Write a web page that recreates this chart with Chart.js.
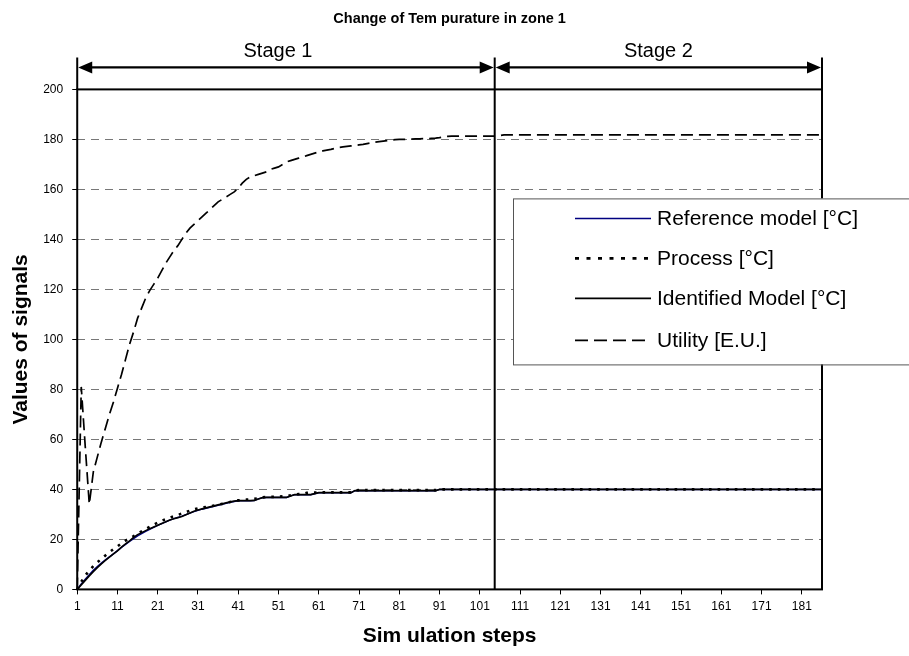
<!DOCTYPE html>
<html>
<head>
<meta charset="utf-8">
<script src="https://cdn.jsdelivr.net/npm/chart.js@4.4.1/dist/chart.umd.min.js"></script>
<style>
html,body{margin:0;padding:0;background:#fff;}
#wrap{width:909px;height:656px;position:relative;}
</style>
</head>
<body>
<div id="wrap"><canvas id="c" width="909" height="656"></canvas></div>
<script>
// ---------- texts ----------
const chartTitle = 'Change of Tem purature in zone 1';
const xTitle = 'Sim ulation steps';
const yTitle = 'Values of signals';
const seriesNames = ['Reference model [°C]', 'Process [°C]', 'Identified Model [°C]', 'Utility [E.U.]'];
const stageNames = ['Stage 1', 'Stage 2'];
const stageBounds = [1, 104.7, 186];   // simulation steps bounding the stages

// ---------- categories ----------
const steps = Array.from({length: 186}, (_, i) => String(i + 1));
const yMin = 0, yMax = 200, yStep = 20;

// ---------- series ----------
const referenceModel = [
  0,2.2,4.1,5.9,7.6,9.1,10.5,11.8,13.0,14.2,
  15.5,16.8,18.0,19.2,20.3,21.4,22.3,23.2,24.0,24.8,
  25.6,26.3,27.0,27.7,28.3,28.8,29.3,29.9,30.5,31.1,
  31.6,32.1,32.5,32.9,33.3,33.7,34.1,34.5,34.9,35.2,
  35.5,35.5,35.5,35.5,35.6,36.2,36.7,36.8,36.8,36.8,
  36.8,36.8,36.8,37.4,37.9,37.9,37.9,37.9,37.9,38.3,
  38.7,38.7,38.7,38.7,38.7,38.7,38.7,38.7,38.7,39.5,
  39.5,39.5,39.5,39.5,39.5,39.5,39.5,39.5,39.5,39.5,
  39.5,39.5,39.5,39.5,39.5,39.5,39.5,39.5,39.5,39.5,
  40,40,40,40,40,40,40,40,40,40,
  40,40,40,40,40,40,40,40,40,40,
  40,40,40,40,40,40,40,40,40,40,
  40,40,40,40,40,40,40,40,40,40,
  40,40,40,40,40,40,40,40,40,40,
  40,40,40,40,40,40,40,40,40,40,
  40,40,40,40,40,40,40,40,40,40,
  40,40,40,40,40,40,40,40,40,40,
  40,40,40,40,40,40,40,40,40,40,
  40,40,40,40,40,40
];
const processValues = [
  0,3.0,5.5,7.6,9.3,10.8,12.2,13.6,14.9,16.1,
  17.2,18.4,19.5,20.4,21.3,22.3,23.2,24.1,25.0,25.9,
  26.7,27.5,28.1,28.7,29.3,29.8,30.3,30.9,31.5,32.0,
  32.4,32.7,33.0,33.2,33.5,33.9,34.2,34.6,35.0,35.3,
  35.6,35.8,35.9,36.0,36.2,36.5,36.8,37.0,37.0,37.0,
  37.1,37.2,37.3,37.6,38.0,38.1,38.2,38.6,38.7,38.7,
  38.8,38.8,38.8,38.8,38.8,38.8,38.8,38.8,38.8,39.6,
  39.7,39.7,39.7,39.7,39.7,39.7,39.7,39.7,39.7,39.7,
  39.7,39.7,39.7,39.7,39.7,39.7,39.7,39.7,39.7,39.7,
  40,40,40,40,40,40,40,40,40,40,
  40,40,40,40,40,40,40,40,40,40,
  40,40,40,40,40,40,40,40,40,40,
  40,40,40,40,40,40,40,40,40,40,
  40,40,40,40,40,40,40,40,40,40,
  40,40,40,40,40,40,40,40,40,40,
  40,40,40,40,40,40,40,40,40,40,
  40,40,40,40,40,40,40,40,40,40,
  40,40,40,40,40,40,40,40,40,40,
  40,40,40,40,40,40
];
const identifiedModel = [
  0,1.8,3.6,5.4,7.1,8.7,10.2,11.6,12.9,14.2,
  15.4,16.9,18.2,19.4,20.8,21.9,22.7,23.5,24.3,25.0,
  25.7,26.4,27.1,27.8,28.3,28.7,29.2,29.9,30.6,31.3,
  31.8,32.2,32.6,33.0,33.4,33.8,34.2,34.6,35.0,35.3,
  35.5,35.5,35.5,35.5,35.6,36.2,36.7,36.8,36.8,36.8,
  36.8,36.8,36.8,37.4,37.9,37.9,37.9,37.9,37.9,38.3,
  38.7,38.7,38.7,38.7,38.7,38.7,38.7,38.7,38.7,39.5,
  39.5,39.5,39.5,39.5,39.5,39.5,39.5,39.5,39.5,39.5,
  39.5,39.5,39.5,39.5,39.5,39.5,39.5,39.5,39.5,39.5,
  40,40,40,40,40,40,40,40,40,40,
  40,40,40,40,40,40,40,40,40,40,
  40,40,40,40,40,40,40,40,40,40,
  40,40,40,40,40,40,40,40,40,40,
  40,40,40,40,40,40,40,40,40,40,
  40,40,40,40,40,40,40,40,40,40,
  40,40,40,40,40,40,40,40,40,40,
  40,40,40,40,40,40,40,40,40,40,
  40,40,40,40,40,40,40,40,40,40,
  40,40,40,40,40,40
];
const utilityValues = [
  0,81,57,34,47,53,59,64.5,70,75,
  80.5,86,92,98,103,108.5,112.5,116.5,119.5,122,
  124.5,127.5,130.5,133,135.5,137.5,140,142.5,144.5,146,
  147.5,149,150.5,152,153.5,155,156,157,158,159,
  160.5,162.5,164,165,165.5,166,166.5,167,168,168.5,
  169,170,171,171.5,172,172.5,173,173.5,174,174.5,
  175,175.4,175.7,176,176.4,176.8,177,177.2,177.4,177.6,
  177.8,178,178.3,178.6,178.9,179.1,179.3,179.5,179.7,179.9,
  180,180,180.1,180.1,180.2,180.2,180.3,180.3,180.4,180.5,
  180.7,181,181.2,181.3,181.3,181.3,181.3,181.3,181.3,181.3,
  181.3,181.3,181.3,181.3,181.3,181.5,181.8,181.8,181.8,181.8,
  181.8,181.8,181.8,181.8,181.8,181.8,181.8,181.8,181.8,181.8,
  181.8,181.8,181.8,181.8,181.8,181.8,181.8,181.8,181.8,181.8,
  181.8,181.8,181.8,181.8,181.8,181.8,181.8,181.8,181.8,181.8,
  181.8,181.8,181.8,181.8,181.8,181.8,181.8,181.8,181.8,181.8,
  181.8,181.8,181.8,181.8,181.8,181.8,181.8,181.8,181.8,181.8,
  181.8,181.8,181.8,181.8,181.8,181.8,181.8,181.8,181.8,181.8,
  181.8,181.8,181.8,181.8,181.8,181.8,181.8,181.8,181.8,181.8,
  181.8,181.8,181.8,181.8,181.8,181.8
];

const FONT = "'Liberation Sans', Arial, Helvetica, sans-serif";
Chart.defaults.font.family = FONT;
Chart.defaults.color = '#000';

// ---------- decorations: plot frame, stage arrows, legend ----------
const decor = {
  id: 'decor',
  afterDatasetsDraw(chart) {
    const {ctx, chartArea: a, scales: {x}} = chart;
    ctx.save();
    // frame
    ctx.strokeStyle = '#000';
    ctx.lineWidth = 2;
    ctx.strokeRect(a.left, a.top, a.right - a.left, a.bottom - a.top);

    // stage bounds
    const xs = stageBounds.map(v => x.getPixelForValue(v - 1));
    const topY = a.top - 32, arrowY = a.top - 22;
    ctx.lineWidth = 2;
    ctx.beginPath();
    ctx.moveTo(xs[0], topY); ctx.lineTo(xs[0], a.top);
    ctx.moveTo(xs[1], topY); ctx.lineTo(xs[1], a.bottom);
    ctx.moveTo(xs[2], topY); ctx.lineTo(xs[2], a.top);
    ctx.stroke();
    ctx.fillStyle = '#000';
    ctx.font = '20px ' + FONT;
    ctx.textAlign = 'center';
    ctx.textBaseline = 'alphabetic';
    ctx.lineWidth = 2.2;
    for (let i = 0; i < 2; i++) {
      const x0 = xs[i] + 1, x1 = xs[i + 1] - 1;
      ctx.beginPath();
      ctx.moveTo(x0 + 8, arrowY); ctx.lineTo(x1 - 8, arrowY);
      ctx.stroke();
      ctx.beginPath();
      ctx.moveTo(x0, arrowY); ctx.lineTo(x0 + 14, arrowY - 6); ctx.lineTo(x0 + 14, arrowY + 6); ctx.closePath();
      ctx.moveTo(x1, arrowY); ctx.lineTo(x1 - 14, arrowY - 6); ctx.lineTo(x1 - 14, arrowY + 6); ctx.closePath();
      ctx.fill();
      const cx = (x0 + x1) / 2 - (i === 0 ? 8 : 0);
      ctx.fillText(stageNames[i], cx, arrowY - 10);
    }

    // legend
    const lx = a.right - 309, ly = a.top + 109, lh = 166;
    ctx.fillStyle = '#fff';
    ctx.fillRect(lx, ly, 420, lh);
    ctx.strokeStyle = '#555';
    ctx.lineWidth = 1;
    ctx.strokeRect(lx + 0.5, ly + 0.5, 420, lh);
    ctx.font = '21px ' + FONT;
    ctx.textAlign = 'left';
    ctx.textBaseline = 'middle';
    const rows = [20, 60, 100, 142];
    chart.data.datasets.forEach((ds, i) => {
      const y = ly + rows[i];
      ctx.save();
      ctx.strokeStyle = ds.borderColor;
      ctx.lineWidth = ds.legendWidth || ds.borderWidth;
      ctx.setLineDash(ds.legendDash || ds.borderDash || []);
      ctx.beginPath();
      ctx.moveTo(lx + 62, y); ctx.lineTo(lx + 138, y);
      ctx.stroke();
      ctx.restore();
      ctx.fillStyle = '#000';
      ctx.fillText(ds.label, lx + 144, y + 1);
    });
    ctx.restore();
  }
};

new Chart(document.getElementById('c'), {
  type: 'line',
  data: {
    labels: steps,
    datasets: [
      {label: seriesNames[0], data: referenceModel, borderColor: '#000080', borderWidth: 1.5, order: 2},
      {label: seriesNames[1], data: processValues, borderColor: '#000', borderWidth: 2.6, borderDash: [2.6, 6], legendDash: [4, 7.5], order: 1},
      {label: seriesNames[2], data: identifiedModel, borderColor: '#000', borderWidth: 1.6, order: 0},
      {label: seriesNames[3], data: utilityValues, borderColor: '#000', borderWidth: 1.7, borderDash: [12, 6], legendDash: [13, 6], order: 3}
    ]
  },
  options: {
    responsive: false,
    animation: false,
    devicePixelRatio: 1,
    elements: {point: {radius: 0, hoverRadius: 0}, line: {tension: 0, fill: false}},
    layout: {padding: {left: 0, right: 87, top: 0, bottom: 0}},
    plugins: {
      legend: {display: false},
      tooltip: {enabled: false},
      title: {
        display: true, text: chartTitle, fullSize: false,
        font: {size: 14.5, weight: 'bold', family: FONT}, color: '#000',
        padding: {top: 10, bottom: 62}
      }
    },
    scales: {
      x: {
        type: 'category',
        offset: false,
        grid: {
          drawOnChartArea: false, drawTicks: true, tickLength: 5,
          color: c => (c.index % 10 === 0 ? '#000' : 'rgba(0,0,0,0)'),
          tickColor: c => (c.index % 10 === 0 ? '#000' : 'rgba(0,0,0,0)'),
          tickWidth: 1
        },
        border: {display: false},
        ticks: {
          autoSkip: false, maxRotation: 0, minRotation: 0, padding: 5,
          font: {size: 12, family: FONT}, color: '#000',
          callback: (v, i) => (i % 10 === 0 ? steps[i] : '')
        },
        title: {
          display: true, text: xTitle, color: '#000',
          font: {size: 21, weight: 'bold', family: FONT},
          padding: {top: 5, bottom: 7}
        }
      },
      y: {
        min: yMin, max: yMax,
        grid: {
          color: c => (c.tick && (c.tick.value === yMin || c.tick.value === yMax) ? 'rgba(0,0,0,0)' : '#777'),
          lineWidth: 1, tickLength: 5, tickColor: '#000', tickWidth: 1
        },
        border: {display: false, dash: [8, 6]},
        ticks: {stepSize: yStep, padding: 9, font: {size: 12, family: FONT}, color: '#000'},
        title: {
          display: true, text: yTitle, color: '#000',
          font: {size: 21, weight: 'bold', family: FONT},
          padding: {top: 9, bottom: 0}
        }
      }
    }
  },
  plugins: [decor]
});
</script>
</body>
</html>
